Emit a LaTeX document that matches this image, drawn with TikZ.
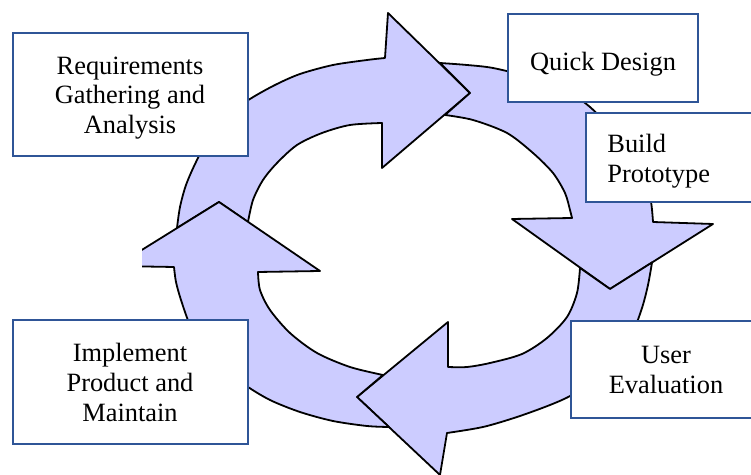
\documentclass[tikz,border=0pt]{standalone}
\usepackage{fontspec}
\setmainfont{Liberation Serif}
\definecolor{arrowfill}{HTML}{CCCCFF}
\definecolor{boxblue}{HTML}{2F5597}
\begin{document}
\begin{tikzpicture}[x=0.5pt,y=-0.5pt,
  ring/.style={fill=arrowfill, draw=black, line width=0.9pt, line join=round},
  box/.style={draw=boxblue, fill=white, line width=1.2pt, inner sep=0pt},
  txt/.style={inner sep=0pt, align=center, font=\fontsize{13.2pt}{14.9pt}\selectfont}]
\useasboundingbox (0,0) rectangle (751,475);
\clip (0,0) rectangle (751,475);
% arrow A (top, to the right)
\path[ring] plot[smooth] coordinates {(177,228) (180,207) (186,185) (196,162) (210,136) (228,115) (250,99) (275,85) (300,74) (333,65) (367,60) (385,58)}
  -- (388,13) -- (470,93) -- (382,168) -- (382,123)
  -- plot[smooth] coordinates {(382,123) (350,125) (322,133) (297,145) (277,163) (263,180) (253,200) (248,222)}
  -- (219,202) -- cycle;
% arrow B (right, downwards)
\path[ring] plot[smooth] coordinates {(440,63) (467,65) (493,68) (530,77) (555,86) (575,96) (590,107) (605,122) (620,140) (635,162) (645,182) (651,202) (653,222)}
  -- (713,224) -- (610,289) -- (512,219) -- (572,218)
  -- plot[smooth] coordinates {(572,218) (570,210) (565,193) (553,173) (533,153) (507,133) (473,120) (445,115)}
  -- (470,93) -- cycle;
% arrow C (bottom, to the left)
\path[ring] plot[smooth] coordinates {(652,262.5) (648,285) (642,308) (632,334) (616,358) (596,379) (572,395) (550,405) (517,417) (483,427) (447,433)}
  -- (440,475) -- (357,397) -- (448,322) -- (448,367)
  -- plot[smooth] coordinates {(448,367) (467,367) (490,363) (522,354) (547,338) (567,317) (577,293) (580,268)}
  -- (610,289) -- cycle;
% arrow D (left, upwards), cut at the left
\begin{scope}
\clip (142,0) rectangle (751,475);
\path[ring] plot[smooth] coordinates {(389,427) (367,426) (333,421) (300,412) (270,400) (245,385) (222,367) (203,347) (190,325) (181,300) (176,282) (174,267)}
  -- (116,266) -- (219,202) -- (320,271) -- (258,272)
  -- plot[smooth] coordinates {(258,272) (260,290) (270,310) (290,333) (317,353) (350,367) (383,375)}
  -- (357,397) -- cycle;
\end{scope}
% boxes
\node[box, minimum width=117.5pt, minimum height=61.5pt] (reqbox) at (130.5,94.5) {};
\node[box, minimum width=95pt, minimum height=44pt] (qdbox) at (603,58) {};
\node[box, minimum width=95pt, minimum height=44.5pt] (bpbox) at (681,157.5) {};
\node[box, minimum width=117.5pt, minimum height=62pt] (impbox) at (130.5,382) {};
\node[box, minimum width=95pt, minimum height=48.5pt] (uebox) at (666,369.5) {};
% texts
\node[txt] (reqtxt) at (130,98) {Requirements\\Gathering and\\Analysis};
\node[txt] (qdtxt) at (603,64) {Quick Design};
\node[txt, anchor=west, align=left] (bptxt) at (607,161) {Build\\Prototype};
\node[txt] (imptxt) at (130,382.5) {Implement\\Product and\\Maintain};
\node[txt] (uetxt) at (666,370) {User\\Evaluation};
\end{tikzpicture}
\end{document}
